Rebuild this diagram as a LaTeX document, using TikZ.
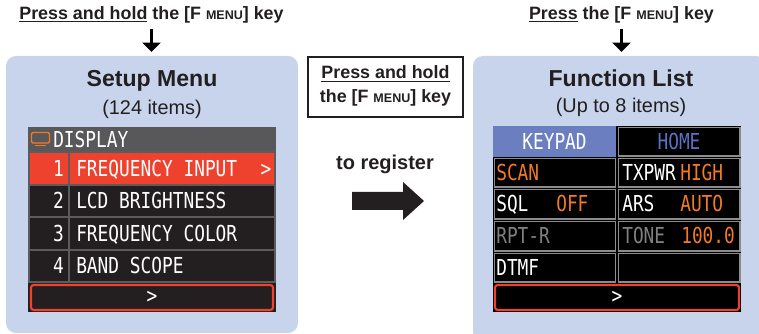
\documentclass[tikz,border=0pt]{standalone}
\usepackage{fontspec}
\setmainfont{Liberation Sans}
\newfontfamily\lcdfont[FakeStretch=0.81]{DejaVu Sans Mono}
\usepackage{tikz}
\usetikzlibrary{arrows.meta}
\usetikzlibrary{positioning}
\definecolor{panelblue}{RGB}{199,212,236}
\definecolor{ink}{RGB}{35,31,32}
\definecolor{lcdback}{RGB}{35,31,32}
\definecolor{lcdhead}{RGB}{88,88,90}
\definecolor{lcdred}{RGB}{238,66,46}
\definecolor{rowgray}{RGB}{92,92,94}
\definecolor{lcdorange}{RGB}{242,122,38}
\definecolor{keyblue}{RGB}{106,126,192}
\definecolor{homeblue}{RGB}{92,112,194}
\definecolor{dimgray}{RGB}{128,128,128}
\definecolor{cellgray}{RGB}{140,140,140}
\newcommand\fmenu{[F {\fontsize{9.4}{9.4}\selectfont MENU}]}
\tikzset{
  ->,
  >={Triangle[width=13.5pt,length=7pt]},
  keytext/.style = {font=\bfseries\fontsize{13.4}{18}\selectfont, text=ink, inner sep=1pt},
  title/.style = {font=\bfseries\fontsize{17.3}{20}\selectfont, text=ink, inner sep=0pt},
  subtitle/.style = {font=\fontsize{14.9}{18}\selectfont, text=ink, inner sep=0pt},
  lcd/.style = {font=\lcdfont\fontsize{16.5}{16.5}\selectfont, text=white, inner sep=0pt},
  panel/.style = {fill=panelblue, rounded corners=7.5pt},
  rowline/.style = {-, draw=rowgray, line width=1.2pt},
  cell/.style = {-, draw=cellgray, line width=1.1pt},
  redframe/.style = {-, draw=lcdred, line width=1.6pt, rounded corners=2pt},
}

\begin{document}
\begin{tikzpicture}[x=0.75pt,y=-0.75pt]
  \useasboundingbox (0,0) rectangle (759,334);
  \clip (0,0) rectangle (759,334);
  \fill[panel] (6,56) rectangle (298,333);
  \fill[panel] (473,56) rectangle (766,342);

  \node [keytext, anchor=base] (hold) at (151.5,19.3) {\underline{Press and hold} the \fmenu{} key};
  \node [keytext, anchor=base] (press) at (621.5,19.3) {\underline{Press} the \fmenu{} key};
  \coordinate (lp) at (151.5,52);
  \coordinate (rp) at (621.5,52);
  \draw [line width=2.3pt, shorten <=3pt] (hold.south) -- (lp);
  \draw [line width=2.3pt, shorten <=3pt] (press.south) -- (rp);

  \node [title, anchor=base] (setup) at (152,87) {Setup Menu};
  \node [subtitle, anchor=base] (setupn) at (152,114.5) {(124 items)};
  \node [title, anchor=base] (func) at (621,87) {Function List};
  \node [subtitle, anchor=base] (funcn) at (621,112.5) {(Up to 8 items)};

  \node [-, draw=ink, line width=0.8pt, minimum width=116.25pt, minimum height=45pt] (mid) at (385.5,87) {};
  \node [keytext, anchor=base] (mid1) at (mid.center |- 0,79) {\underline{Press and hold}};
  \node [keytext, anchor=base] (mid2) at (mid.center |- 0,103) {the \fmenu{} key};
  \node [keytext, font=\bfseries\fontsize{15}{18}\selectfont, anchor=base] (toreg) at (385,169.3) {to register};
  \coordinate (tail) at (352,201);
  \fill [ink] (tail) ++(0,-9) -- ++(51,0) -- ++(0,-10) -- ++(21,19) -- ++(-21,19) -- ++(0,-10) -- ++(-51,0) -- cycle;

  % setup menu screen
  \fill [lcdback] (28,127) rectangle (276,312);
  \fill [lcdhead] (28,127) rectangle (276,152);
  \fill [lcdred] (28,152) rectangle (276,185);
  \foreach \a/\b in {152/185,185/217,217/250,250/282}
    \draw [rowline] (28.8,\a) rectangle (275.2,\b);
  \draw [rowline] (69,152) -- (69,282);
  \draw [-, draw=lcdorange, line width=1pt, rounded corners=1pt] (31.5,132.5) rectangle (49.5,143);
  \draw [-, draw=lcdorange, line width=1.2pt] (35,145.5) -- (46,145.5);
  \node [lcd, anchor=base west] (disp) at (53,147.5) {DISPLAY};
  \foreach \n/\t/\y in {1/FREQUENCY INPUT/176.5, 2/LCD BRIGHTNESS/209, 3/FREQUENCY COLOR/241.5, 4/BAND SCOPE/274} {
    \node [lcd, anchor=base east] (num\n) at (64,\y) {\n};
    \node [lcd, anchor=base west] (item\n) at (76,\y) {\t};
  }
  \node [lcd, anchor=base] (more1) at (266,176.5) {>};
  \draw [redframe] (31,285) rectangle (273,310);
  \node [lcd, anchor=base] (next1) at (152,303) {>};

  % function list screen
  \fill [black] (493,126) rectangle (741,312);
  \fill [keyblue] (493,126) rectangle (616,157);
  \draw [cell] (618.5,127.5) rectangle (740,156);
  \foreach \a/\b in {157/188,188/220,220/252,252/283} {
    \draw [cell] (494.5,\a+1.5) rectangle (615.5,\b-1);
    \draw [cell] (618.5,\a+1.5) rectangle (740,\b-1);
  }
  \node [lcd, anchor=base] (keypad) at (554.5,149.5) {KEYPAD};
  \node [lcd, anchor=base, text=homeblue] (home) at (679,149.5) {HOME};
  \node [lcd, anchor=base west, text=lcdorange] (scan) at (496,180.5) {SCAN};
  \node [lcd, anchor=base west] (txpwr) at (622,180.5) {TXPWR};
  \node [lcd, anchor=base west, text=lcdorange] (high) at (680,180.5) {HIGH};
  \node [lcd, anchor=base west] (sql) at (496,212) {SQL};
  \node [lcd, anchor=base west, text=lcdorange] (off) at (556,212) {OFF};
  \node [lcd, anchor=base west] (ars) at (622,212) {ARS};
  \node [lcd, anchor=base west, text=lcdorange] (auto) at (680,212) {AUTO};
  \node [lcd, anchor=base west, text=dimgray] (rpt) at (496,244) {RPT-R};
  \node [lcd, anchor=base west, text=dimgray] (tone) at (622,244) {TONE};
  \node [lcd, anchor=base west, text=lcdorange] (freq) at (681,244) {100.0};
  \node [lcd, anchor=base west] (dtmf) at (496,275.5) {DTMF};
  \draw [redframe] (495,285) rectangle (739,310);
  \node [lcd, anchor=base] (next2) at (617,303) {>};
\end{tikzpicture}
\end{document}
